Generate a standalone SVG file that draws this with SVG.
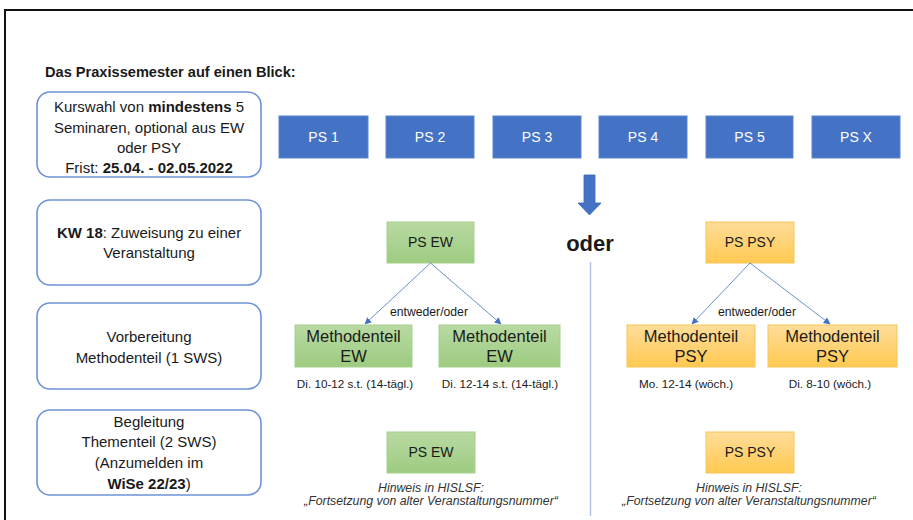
<svg xmlns="http://www.w3.org/2000/svg" width="913" height="520" viewBox="0 0 913 520">
<defs>
<linearGradient id="gGreen" x1="0" y1="0" x2="0" y2="1"><stop offset="0" stop-color="#B9DAA3"/><stop offset="1" stop-color="#9DCB80"/></linearGradient>
<linearGradient id="gOrange" x1="0" y1="0" x2="0" y2="1"><stop offset="0" stop-color="#FFDD9A"/><stop offset="1" stop-color="#FFC951"/></linearGradient>
<marker id="ah" viewBox="0 0 10 10" refX="9" refY="5" markerWidth="7" markerHeight="7" orient="auto" markerUnits="userSpaceOnUse"><path d="M0,0 L10,5 L0,10 z" fill="#4472C4"/></marker>
</defs>
<style>
text{font-family:"Liberation Sans",Arial,sans-serif;fill:#1a1a1a}
.lb{fill:#fff;stroke:#6F92D6;stroke-width:1.6}
.lt{font-size:15px;text-anchor:middle}
.ps{fill:#4472C4;stroke:#5B85CF;stroke-width:1}
.pt{font-size:14px;fill:#fff;text-anchor:middle}
.gr{fill:url(#gGreen);stroke:#A6D08C;stroke-width:1}
.or{fill:url(#gOrange);stroke:#F7C556;stroke-width:1}
.bt{font-size:14px;text-anchor:middle}
.mt{font-size:16.5px;text-anchor:middle}
.st{font-size:11.7px;text-anchor:middle}
.eo{font-size:12.2px;text-anchor:middle}
.it{font-size:12.3px;font-style:italic;text-anchor:middle;fill:#333}
.con{stroke:#4472C4;stroke-width:0.8;fill:none}
</style>
<rect x="0" y="0" width="913" height="520" fill="#fff"/>
<path d="M5,520 L5,10 L913,10" fill="none" stroke="#111" stroke-width="2"/>
<text x="45" y="77" font-size="14.6" font-weight="bold">Das Praxissemester auf einen Blick:</text>

<g id="box-kurswahl">
<rect class="lb" x="37" y="92" width="224" height="85" rx="13"/>
<text class="lt" x="149" y="112">Kurswahl von <tspan font-weight="bold">mindestens</tspan> 5</text>
<text class="lt" x="149" y="133">Seminaren, optional aus EW</text>
<text class="lt" x="149" y="153">oder PSY</text>
<text class="lt" x="149" y="173">Frist: <tspan font-weight="bold">25.04. - 02.05.2022</tspan></text>
</g>
<g id="box-kw18">
<rect class="lb" x="37" y="200" width="224" height="85" rx="13"/>
<text class="lt" x="149" y="238"><tspan font-weight="bold">KW 18</tspan>: Zuweisung zu einer</text>
<text class="lt" x="149" y="258">Veranstaltung</text>
</g>
<g id="box-vorbereitung">
<rect class="lb" x="37" y="303" width="224" height="86" rx="13"/>
<text class="lt" x="149" y="342">Vorbereitung</text>
<text class="lt" x="149" y="363">Methodenteil (1 SWS)</text>
</g>
<g id="box-begleitung">
<rect class="lb" x="37" y="410" width="224" height="85" rx="13"/>
<text class="lt" x="149" y="427">Begleitung</text>
<text class="lt" x="149" y="447">Thementeil (2 SWS)</text>
<text class="lt" x="149" y="468">(Anzumelden im</text>
<text class="lt" x="149" y="489"><tspan font-weight="bold">WiSe 22/23</tspan>)</text>
</g>

<g id="ps1"><rect class="ps" x="279" y="116" width="89" height="42"/><text class="pt" x="323.5" y="142">PS 1</text></g>
<g id="ps2"><rect class="ps" x="386" y="116" width="88" height="42"/><text class="pt" x="430" y="142">PS 2</text></g>
<g id="ps3"><rect class="ps" x="493" y="116" width="88" height="42"/><text class="pt" x="537" y="142">PS 3</text></g>
<g id="ps4"><rect class="ps" x="599" y="116" width="88" height="42"/><text class="pt" x="643" y="142">PS 4</text></g>
<g id="ps5"><rect class="ps" x="706" y="116" width="87" height="42"/><text class="pt" x="749.5" y="142">PS 5</text></g>
<g id="psx"><rect class="ps" x="812" y="116" width="88" height="42"/><text class="pt" x="856" y="142">PS X</text></g>

<g id="big-arrow"><path d="M584,175 L595,175 L595,203 L601,203 L589.5,215 L578,203 L584,203 Z" fill="#4472C4" stroke="#3A64B0" stroke-width="0.8"/></g>
<text x="590" y="251" font-size="22" font-weight="bold" text-anchor="middle" fill="#000">oder</text>
<line x1="590.5" y1="262" x2="590.5" y2="516" stroke="#B4C7E7" stroke-width="1.5"/>

<g id="ps-ew"><rect class="gr" x="387" y="222" width="87" height="41"/><text class="bt" x="430.5" y="247">PS EW</text></g>
<g id="ps-psy"><rect class="or" x="706" y="222" width="88" height="41"/><text class="bt" x="750" y="247">PS PSY</text></g>

<g id="connectors">
<line class="con" x1="430.5" y1="263" x2="365" y2="324" marker-end="url(#ah)"/>
<line class="con" x1="430.5" y1="263" x2="501" y2="324" marker-end="url(#ah)"/>
<line class="con" x1="750" y1="263" x2="692" y2="324" marker-end="url(#ah)"/>
<line class="con" x1="750" y1="263" x2="830" y2="324" marker-end="url(#ah)"/>
</g>
<text class="eo" x="429" y="316">entweder/oder</text>
<text class="eo" x="757" y="316">entweder/oder</text>

<g id="m-ew1"><rect class="gr" x="295" y="325" width="117" height="42"/><text class="mt" x="353.5" y="342">Methodenteil</text><text class="mt" x="353.5" y="362">EW</text></g>
<g id="m-ew2"><rect class="gr" x="439" y="325" width="121" height="42"/><text class="mt" x="499.5" y="342">Methodenteil</text><text class="mt" x="499.5" y="362">EW</text></g>
<g id="m-psy1"><rect class="or" x="627" y="325" width="128" height="42"/><text class="mt" x="691" y="342">Methodenteil</text><text class="mt" x="691" y="362">PSY</text></g>
<g id="m-psy2"><rect class="or" x="768" y="325" width="129" height="42"/><text class="mt" x="832.5" y="342">Methodenteil</text><text class="mt" x="832.5" y="362">PSY</text></g>

<text class="st" x="355" y="388">Di. 10-12 s.t. (14-tägl.)</text>
<text class="st" x="500" y="388">Di. 12-14 s.t. (14-tägl.)</text>
<text class="st" x="686" y="388">Mo. 12-14 (wöch.)</text>
<text class="st" x="830" y="388">Di. 8-10 (wöch.)</text>

<g id="ps-ew-2"><rect class="gr" x="387" y="432" width="88" height="41"/><text class="bt" x="431" y="457">PS EW</text></g>
<g id="ps-psy-2"><rect class="or" x="706" y="432" width="88" height="41"/><text class="bt" x="750" y="457">PS PSY</text></g>
<text class="it" x="431" y="492">Hinweis in HISLSF:</text>
<text class="it" x="431" y="505">„Fortsetzung von alter Veranstaltungsnummer“</text>
<text class="it" x="749" y="492">Hinweis in HISLSF:</text>
<text class="it" x="749" y="505">„Fortsetzung von alter Veranstaltungsnummer“</text>
</svg>
